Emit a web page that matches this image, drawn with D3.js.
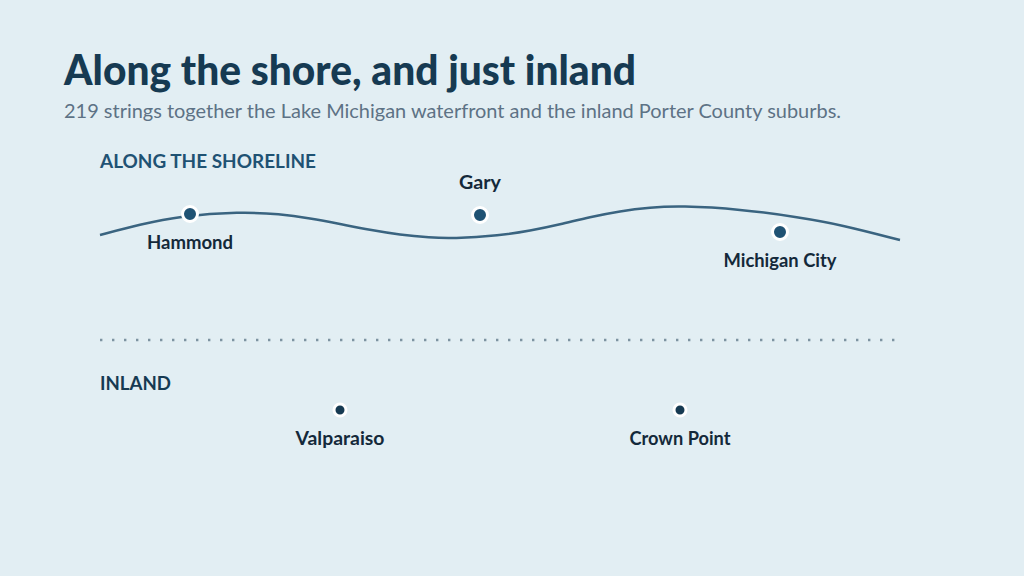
<!DOCTYPE html>
<html>
<head>
<meta charset="utf-8">
<script src="https://cdn.jsdelivr.net/npm/d3@7"></script>
<style>
html, body { margin: 0; padding: 0; background: #e2eef3; }
svg { display: block; }
text { font-family: Lato, "Noto Sans", sans-serif; }
</style>
</head>
<body>
<div id="chart"></div>
<script>
// shoreline curve, position along the route (0-100) and height (0-40)
const shorePos = [0, 5, 10, 17.5, 22.5, 26.25, 30, 33.75, 37.5, 41.25, 44, 50, 53.75, 57.5, 61.25, 65, 68.75, 72.5, 80, 87.5, 92.5, 100];
const shoreHeight = [5, 15.5, 24, 28.2, 26, 21.7, 16, 10, 5.2, 2.4, 1.4, 4.6, 9.2, 15.6, 23, 29, 32.6, 34.2, 31, 22.5, 15.5, 0];

const shoreCities = ["Hammond", "Gary", "Michigan City"];
const shoreCityPos = [11.25, 47.5, 85];
const shoreCityHeight = [26, 25, 8];
const shoreLabelSide = ["below", "above", "below"];

const inlandCities = ["Valparaiso", "Crown Point"];
const inlandCityPos = [30, 72.5];

const w = 1024;
const h = 576;

// label widths, the fallback font runs a little narrower than the original
const labelWidth = { "Hammond": 86, "Gary": 42, "Michigan City": 113, "Valparaiso": 89, "Crown Point": 101 };

const x = d3.scaleLinear().domain([0, 100]).range([100, 900]);
const y = d3.scaleLinear().domain([0, 40]).range([240, 200]);

const svg = d3.select("#chart").append("svg")
    .attr("width", w)
    .attr("height", h);

svg.append("rect").attr("width", w).attr("height", h).attr("fill", "#e2eef3");

// heading
svg.append("text").attr("x", 64).attr("y", 85)
    .attr("font-size", 42).attr("font-weight", 900).attr("fill", "#163a52")
    .attr("textLength", 572).attr("lengthAdjust", "spacingAndGlyphs")
    .text("Along the shore, and just inland");
svg.append("text").attr("x", 64).attr("y", 118)
    .attr("font-size", 20).attr("fill", "#5d7285")
    .attr("textLength", 777).attr("lengthAdjust", "spacingAndGlyphs")
    .text("219 strings together the Lake Michigan waterfront and the inland Porter County suburbs.");

// section labels
svg.append("text").attr("x", 100).attr("y", 168)
    .attr("font-size", 18).attr("font-weight", 700).attr("fill", "#1f5273")
    .attr("textLength", 216).attr("lengthAdjust", "spacingAndGlyphs")
    .text("ALONG THE SHORELINE");
svg.append("text").attr("x", 100).attr("y", 390)
    .attr("font-size", 18).attr("font-weight", 700).attr("fill", "#163a52")
    .attr("textLength", 71).attr("lengthAdjust", "spacingAndGlyphs")
    .text("INLAND");

// shoreline
const line = d3.line()
    .x(d => x(d[0]))
    .y(d => y(d[1]))
    .curve(d3.curveBasis);

svg.append("path")
    .datum(d3.zip(shorePos, shoreHeight))
    .attr("d", line)
    .attr("fill", "none")
    .attr("stroke", "#3a6480")
    .attr("stroke-width", 2.5);

// dotted divider
svg.append("line")
    .attr("x1", x(0)).attr("x2", x(100))
    .attr("y1", 340).attr("y2", 340)
    .attr("stroke", "#7d93a1")
    .attr("stroke-width", 2.4)
    .attr("stroke-dasharray", "2.4 9.6");

const drawCity = (name, cx, cy, r, color, labelY) => {
    svg.append("circle").attr("cx", cx).attr("cy", cy).attr("r", r).attr("fill", color)
        .attr("stroke", "#ffffff").attr("stroke-width", 3);
    svg.append("text").attr("x", cx).attr("y", labelY)
        .attr("text-anchor", "middle")
        .attr("font-size", 18.5).attr("font-weight", 700).attr("fill", "#14293a")
        .attr("textLength", labelWidth[name]).attr("lengthAdjust", "spacingAndGlyphs")
        .text(name);
};

shoreCities.forEach((name, i) => {
    const cy = y(shoreCityHeight[i]);
    drawCity(name, x(shoreCityPos[i]), cy, 7.5, "#1f5273", shoreLabelSide[i] == "above" ? cy - 26 : cy + 34.5);
});

inlandCities.forEach((name, i) => {
    drawCity(name, x(inlandCityPos[i]), 410, 6, "#163a52", 444.5);
});
</script>
</body>
</html>
